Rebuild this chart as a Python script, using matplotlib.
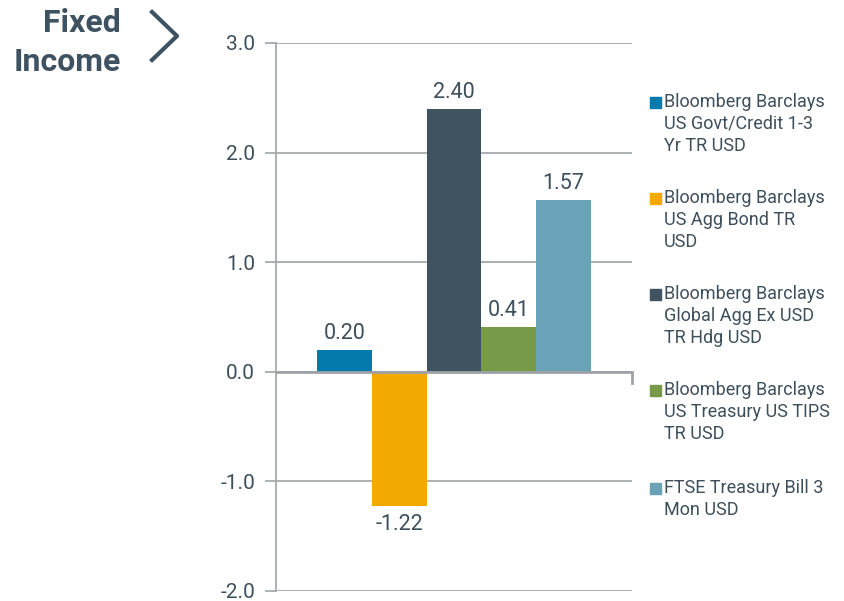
import matplotlib
matplotlib.use("Agg")
import matplotlib.pyplot as plt
from matplotlib.patches import Rectangle
from matplotlib.lines import Line2D

categories = [
    "Bloomberg Barclays\nUS Govt/Credit 1-3\nYr TR USD",
    "Bloomberg Barclays\nUS Agg Bond TR\nUSD",
    "Bloomberg Barclays\nGlobal Agg Ex USD\nTR Hdg USD",
    "Bloomberg Barclays\nUS Treasury US TIPS\nTR USD",
    "FTSE Treasury Bill 3\nMon USD",
]
values = [0.20, -1.22, 2.40, 0.41, 1.57]
colors = ["#0479AD", "#F2A900", "#3F5361", "#779A49", "#6AA3B8"]
yticks = [3.0, 2.0, 1.0, 0.0, -1.0, -2.0]
title_lines = ["Fixed", "Income"]

plt.rcParams['font.family'] = ['Roboto', 'DejaVu Sans']
TXT = "#3E4F5C"
GRID = "#A0A3A6"

W, H = 844, 601
fig = plt.figure(figsize=(W / 100, H / 100), dpi=100)
ax = fig.add_axes([276 / W, 1 - 591 / H, (632 - 276) / W, (591 - 43) / H])

x = list(range(len(values)))
bars = ax.bar(x, values, width=1.0, color=colors, zorder=3)

ax.set_ylim(-2.0, 3.0)
ax.set_xlim(-1.25, 4.75 + 0.5)
ax.set_yticks(yticks)
ax.set_yticklabels([f"{v:.1f}" for v in yticks])
ax.set_xticks([])
ax.yaxis.grid(True, color=GRID, linewidth=1.2, zorder=0)
ax.tick_params(axis='y', length=8, width=1.2, color=GRID, labelsize=15,
               labelcolor=TXT, pad=7)
for s in ["top", "right", "bottom"]:
    ax.spines[s].set_visible(False)
ax.spines["left"].set_color(GRID)
ax.spines["left"].set_linewidth(1.2)
# zero line emphasis and end tick
ax.axhline(0, color=GRID, linewidth=2, zorder=4)
ax.plot([1, 1], [0, -0.1], transform=ax.get_yaxis_transform(),
        color=GRID, linewidth=2, clip_on=False, zorder=4)

for xi, v in zip(x, values):
    if v >= 0:
        ax.annotate(f"{v:.2f}", (xi, v), xytext=(0, 4), textcoords="offset points",
                    ha="center", va="bottom", fontsize=15.5, color=TXT)
    else:
        ax.annotate(f"{v:.2f}", (xi, v), xytext=(0, -6), textcoords="offset points",
                    ha="center", va="top", fontsize=15.5, color=TXT)

# Title
fig.text(121 / W, 1 - 23 / H, title_lines[0], ha="right", va="center",
         fontsize=23, fontweight="bold", color="#3E5261")
fig.text(121 / W, 1 - 62 / H, title_lines[1], ha="right", va="center",
         fontsize=23, fontweight="bold", color="#3E5261")
fig.add_artist(Line2D([152 / W, 177 / W, 152 / W],
                      [1 - 12 / H, 1 - 36 / H, 1 - 60 / H],
                      color="#3E5261", linewidth=3))

# Legend
starts = [102, 198, 294, 390, 488]
for y0, lab, c in zip(starts, categories, colors):
    fig.add_artist(Rectangle((650 / W, 1 - (y0 + 6) / H), 11 / W, 11 / H,
                             color=c, transform=fig.transFigure))
    for i, line in enumerate(lab.split("\n")):
        fig.text(664 / W, 1 - (y0 + 22 * i) / H, line, ha="left", va="center",
                 fontsize=13, color=TXT)

fig.savefig("out.png", dpi=100)
